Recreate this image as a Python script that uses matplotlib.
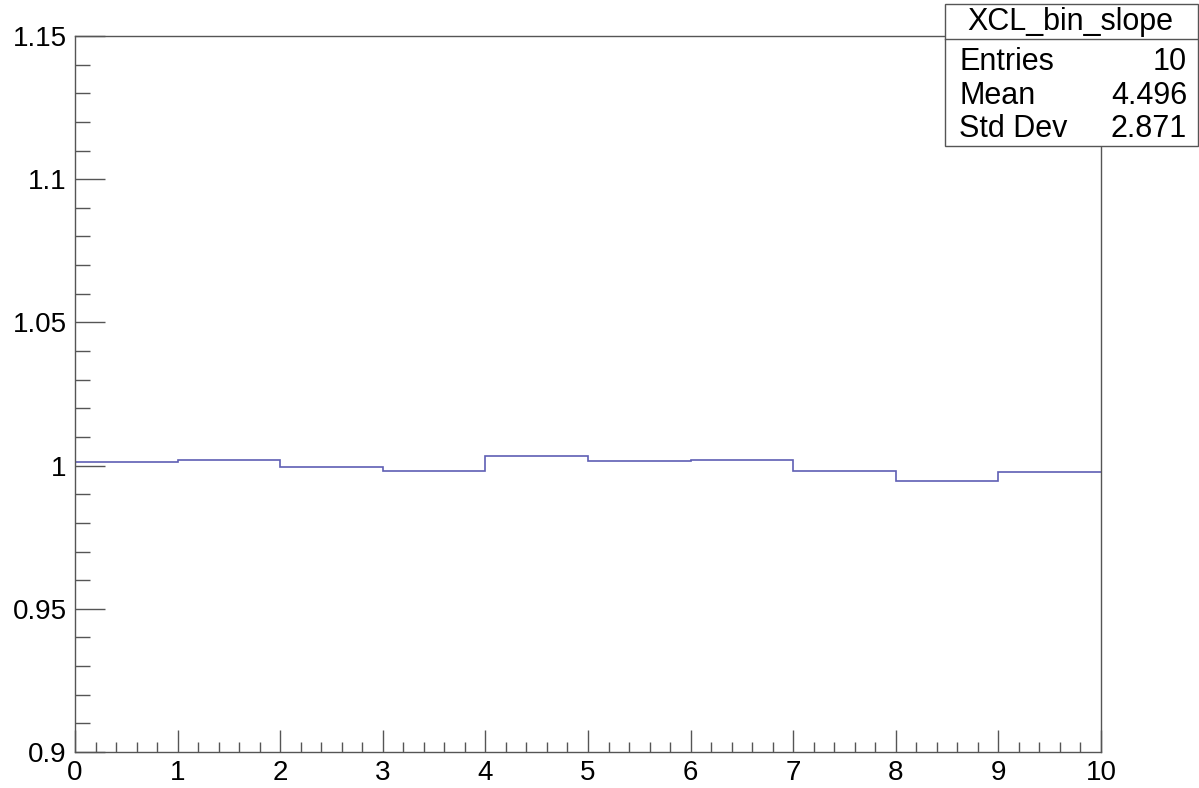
import numpy as np
import matplotlib
matplotlib.use("Agg")
import matplotlib.pyplot as plt
from matplotlib.ticker import MultipleLocator
from matplotlib.patches import Rectangle
from matplotlib.lines import Line2D

plt.rcParams['font.family'] = ['Liberation Sans', 'DejaVu Sans']

# histogram XCL_bin_slope
bin_edges = [0, 1, 2, 3, 4, 5, 6, 7, 8, 9, 10]
bin_values = [1.00125, 1.002, 0.99938, 0.998, 1.00324,
              1.00162, 1.00212, 0.99825, 0.99464, 0.99763]
stats_title = "XCL_bin_slope"
stats_names = ["Entries", "Mean", "Std Dev"]
stats_values = ["10", "4.496", "2.871"]

W, H = 1199, 788
fig = plt.figure(figsize=(W / 100, H / 100), dpi=100)
ax = fig.add_axes([75 / W, 1 - 752 / H, (1101 - 75) / W, (752 - 36) / H])

ax.stairs(bin_values, bin_edges, baseline=None, color='#5f5fb4', linewidth=1.2)

ax.set_xlim(0, 10)
ax.set_ylim(0.9, 1.15)
ax.xaxis.set_major_locator(MultipleLocator(1))
ax.xaxis.set_minor_locator(MultipleLocator(0.2))
ax.yaxis.set_minor_locator(MultipleLocator(0.01))
ax.set_yticks([0.9, 0.95, 1.0, 1.05, 1.1, 1.15])
ax.set_yticklabels(["0.9", "0.95", "1", "1.05", "1.1", "1.15"])

ax.tick_params(axis='both', which='both', direction='in', colors='#555555',
               labelcolor='black', labelsize=20, width=1)
ax.tick_params(axis='y', which='major', length=21.6, pad=6)
ax.tick_params(axis='y', which='minor', length=10.8)
ax.tick_params(axis='x', which='major', length=16, pad=6)
ax.tick_params(axis='x', which='minor', length=7.5)
for s in ax.spines.values():
    s.set_color('#555555')
    s.set_linewidth(1)

# stats box in pixel coords
def px(x, y):
    return x / W, 1 - y / H

bx0, bx1, by0, by1, bsep = 945, 1198, 4, 146, 39
x0, y1 = px(bx0, by1)
x1, y0 = px(bx1, by0)
fig.add_artist(Rectangle((x0, y1), x1 - x0, y0 - y1, transform=fig.transFigure,
                         facecolor='white', edgecolor='#555555', linewidth=1, zorder=5))
sx0, sy = px(bx0, bsep)
sx1, _ = px(bx1, bsep)
fig.add_artist(Line2D([sx0, sx1], [sy, sy], transform=fig.transFigure,
                      color='#555555', linewidth=1, zorder=6))

tx, ty = px((bx0 + bx1) / 2 - 1, 22)
fig.text(tx, ty, stats_title, ha='center', va='center', fontsize=22, zorder=7)
for i, (name, val) in enumerate(zip(stats_names, stats_values)):
    yy = 62 + i * 33.5
    lx, ly = px(959, yy)
    rx, _ = px(1187, yy)
    fig.text(lx, ly, name, ha='left', va='center', fontsize=22, zorder=7)
    fig.text(rx, ly, val, ha='right', va='center', fontsize=22, zorder=7)

fig.savefig("out.png", dpi=100)
